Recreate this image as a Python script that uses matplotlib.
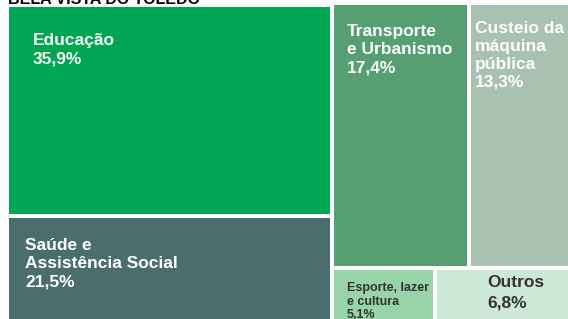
import matplotlib.pyplot as plt
from matplotlib.patches import Rectangle

plt.rcParams['font.family'] = ['Liberation Sans', 'DejaVu Sans']

title = "BELA VISTA DO TOLEDO"
labels = ["Educação", "Saúde e\nAssistência Social", "Transporte\ne Urbanismo",
          "Custeio da\nmáquina\npública", "Esporte, lazer\ne cultura", "Outros"]
values = [35.9, 21.5, 17.4, 13.3, 5.1, 6.8]
pct_labels = ["35,9%", "21,5%", "17,4%", "13,3%", "5,1%", "6,8%"]

colors = ['#00a651', '#4a6e6b', '#559f73', '#a9c1b1', '#99d4a8', '#cde8d6']
text_colors = ['white', 'white', 'white', 'white', '#333333', '#333333']
font_sizes = [12.5, 12.5, 12.5, 12.5, 9, 12.5]
line_sp = [1.27, 1.27, 1.27, 1.24, 1.15, 1.4]
# text offset from tile's top-left corner (px)
text_off = [(24, 26), (16, 20), (13, 19), (4, 16), (13, 12), (50, 5)]

# layout: left column = [0, 1] stacked, right column rows [2, 3] and [4, 5]
x0, x1 = 7, 573
left_top, left_h = 5, 337
right_top, right_h = 3, 368
gap = 2

rects = [None] * len(values)
total = sum(values)
left_idx = [0, 1]
right_rows = [[2, 3], [4, 5]]
left_w = (x1 - x0) * sum(values[i] for i in left_idx) / total
y = left_top
for i in left_idx:
    h = left_h * values[i] / sum(values[j] for j in left_idx)
    rects[i] = (x0, y, left_w, h)
    y += h
right_sum = sum(values[i] for r in right_rows for i in r)
right_w = (x1 - x0) - left_w
y = right_top
for row in right_rows:
    rsum = sum(values[i] for i in row)
    h = right_h * rsum / right_sum
    x = x0 + left_w
    for i in row:
        w = right_w * values[i] / rsum
        rects[i] = (x, y, w, h)
        x += w
    y += h

fig = plt.figure(figsize=(5.68, 3.19), dpi=100)
ax = fig.add_axes([0, 0, 1, 1])
ax.set_xlim(0, 568)
ax.set_ylim(319, 0)
ax.axis('off')

for i, (x, y, w, h) in enumerate(rects):
    ax.add_patch(Rectangle((x + gap, y + gap), w - 2 * gap, h - 2 * gap,
                           facecolor=colors[i], edgecolor='none'))
    dx, dy = text_off[i]
    ax.text(x + gap + dx, y + gap + dy, labels[i] + "\n" + pct_labels[i],
            color=text_colors[i], fontsize=font_sizes[i], fontweight='bold',
            va='top', ha='left', linespacing=line_sp[i], clip_on=True)

fig.text(8 / 568, 1 - 4 / 319, title, fontsize=11.5, fontweight='bold',
         color='black', va='baseline', ha='left')

plt.savefig('out.png', dpi=100)
